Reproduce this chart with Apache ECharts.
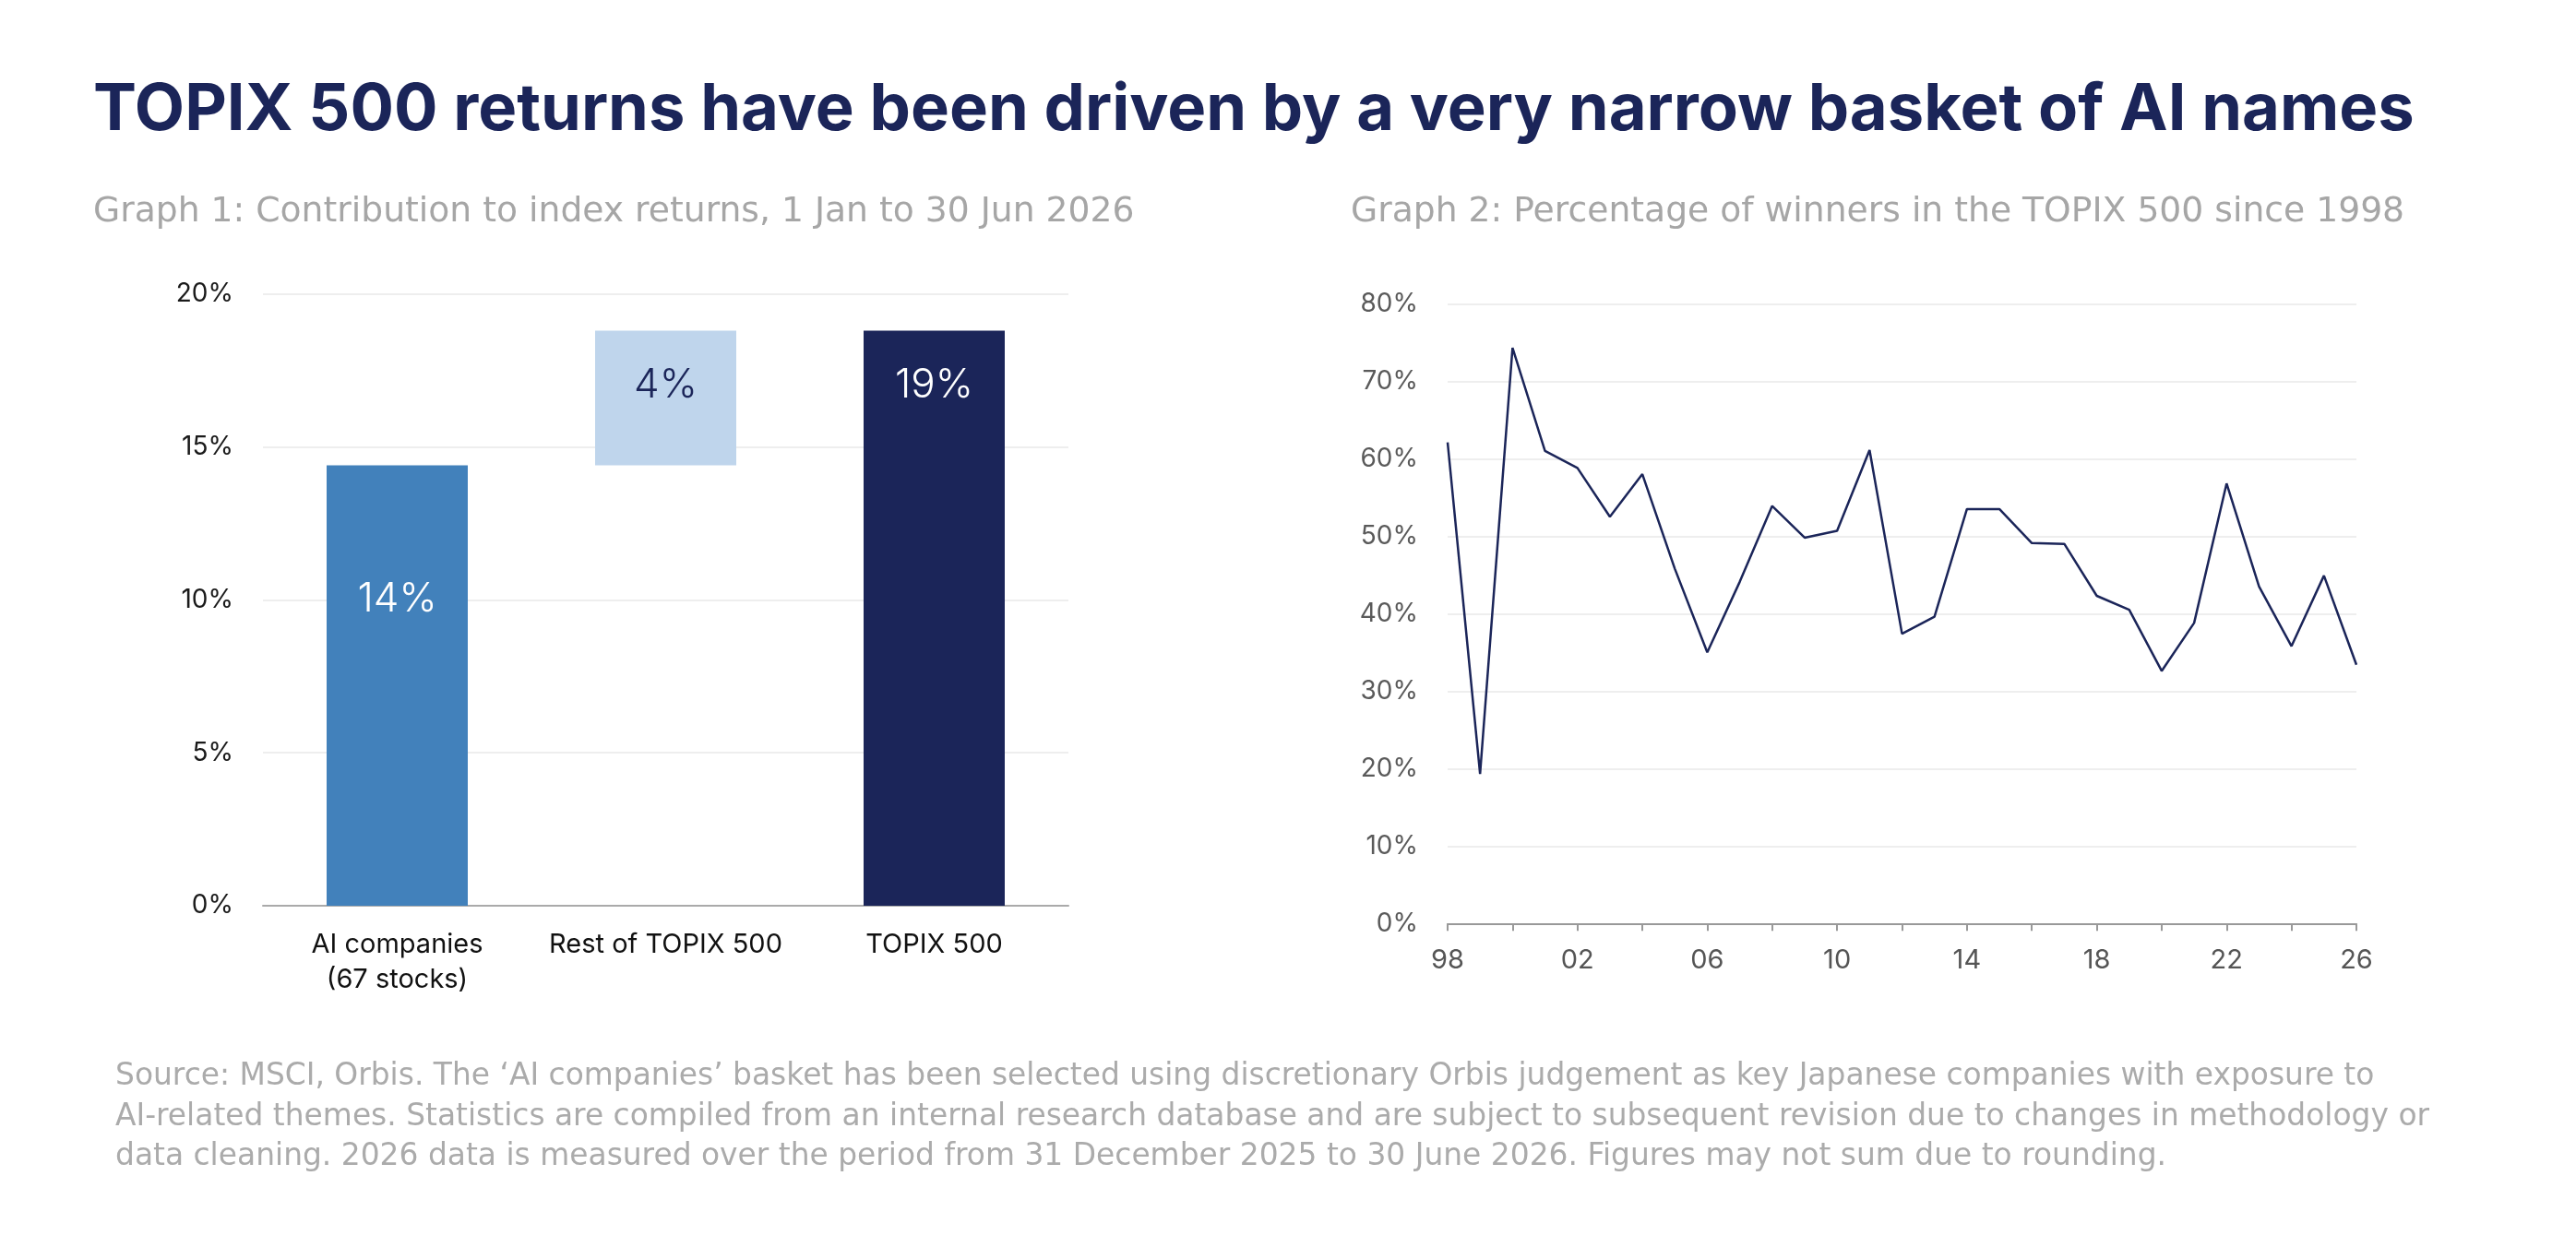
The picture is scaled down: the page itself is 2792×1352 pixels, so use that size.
<!DOCTYPE html>
<html>
<head>
<meta charset="utf-8">
<script src="https://cdn.jsdelivr.net/npm/echarts@6/dist/echarts.min.js"></script>
<style>
html,body{margin:0;padding:0;background:#fff;}
#main{width:2792px;height:1352px;}
</style>
</head>
<body>
<div id="main"></div>
<script>
// graph 1: contribution to index returns
let barCats = ['AI companies\n(67 stocks)', 'Rest of TOPIX 500', 'TOPIX 500'];
let barVals = [14.4, 4.4, 18.8];
let barTags = ['14%', '4%', '19%'];

// graph 2: percentage of winners
let years = ['1998','1999','2000','2001','2002','2003','2004','2005','2006','2007','2008','2009','2010','2011','2012','2013','2014','2015','2016','2017','2018','2019','2020','2021','2022','2023','2024','2025','2026'];
let winners = [62.1, 19.3, 74.3, 61.0, 58.8, 52.5, 58.0, 45.8, 35.0, 44.1, 53.9, 49.8, 50.7, 61.1, 37.4, 39.6, 53.5, 53.5, 49.1, 49.0, 42.3, 40.5, 32.6, 38.8, 56.8, 43.5, 35.8, 44.9, 33.4];

let navy = '#1b2559';
let font = 'Inter';
let wide = 'DejaVu Sans';
let note = [
  'Source: MSCI, Orbis. The \u2018AI companies\u2019 basket has been selected using discretionary Orbis judgement as key Japanese companies with exposure to',
  'AI-related themes. Statistics are compiled from an internal research database and are subject to subsequent revision due to changes in methodology or',
  'data cleaning. 2026 data is measured over the period from 31 December 2025 to 30 June 2026. Figures may not sum due to rounding.'
];

// floating base for the waterfall: rest sits on top of AI companies
let base = [0, barVals[0], 0];
let barColors = ['#4281bb', '#bfd5ec', navy];
let tagColors = ['#fff', navy, '#fff'];
let tagDist = [123, 37, 37];

let chart = echarts.init(document.getElementById('main'));
chart.setOption({
  backgroundColor: '#fff',
  textStyle: {fontFamily: font},
  animation: false,
  graphic: [
    {type:'text', left:101, top:84, style:{text:'TOPIX 500 returns have been driven by a very narrow basket of AI names', fill:navy, font:'700 70.5px ' + font}},
    {type:'text', left:101, top:211, style:{text:'Graph 1: Contribution to index returns, 1 Jan to 30 Jun 2026', fill:'#a6a6a6', font:'37.7px "' + wide + '"'}},
    {type:'text', left:1464, top:211, style:{text:'Graph 2: Percentage of winners in the TOPIX 500 since 1998', fill:'#a6a6a6', font:'37.7px "' + wide + '"'}},
    {type:'text', left:125, top:1146, style:{text:note.join('\n'), fill:'#ababab', font:'32.9px "' + wide + '"', lineHeight:43.5}}
  ],
  grid: [
    {left:285, right:1634, top:318.7, bottom:370},
    {left:1569, right:238, top:329.3, bottom:350.7}
  ],
  xAxis: [
    {type:'category', gridIndex:0, data:barCats,
     axisLine:{lineStyle:{color:'#aaaaaa', width:2}}, axisTick:{show:false},
     axisLabel:{interval:0, color:'#111', fontSize:29, margin:23, lineHeight:38, fontFamily:font}},
    {type:'category', gridIndex:1, data:years, boundaryGap:false,
     axisLine:{lineStyle:{color:'#999999', width:2}},
     axisTick:{interval:1, length:8, lineStyle:{color:'#999999', width:2}},
     axisLabel:{interval:3, color:'#555', fontSize:29, margin:25, fontFamily:font, formatter:v => v.slice(2)}}
  ],
  yAxis: [
    {type:'value', gridIndex:0, min:0, max:20, interval:5,
     axisLine:{show:false}, axisTick:{show:false},
     splitLine:{lineStyle:{color:'#e8e8e8', width:1.5}},
     axisLabel:{color:'#1a1a1a', fontSize:28, margin:32, fontFamily:font, formatter:'{value}%'}},
    {type:'value', gridIndex:1, min:0, max:80, interval:10,
     axisLine:{show:false}, axisTick:{show:false},
     splitLine:{lineStyle:{color:'#e8e8e8', width:1.5}},
     axisLabel:{color:'#5a5a5a', fontSize:28, margin:32, fontFamily:font, formatter:'{value}%'}}
  ],
  series: [
    {type:'bar', xAxisIndex:0, yAxisIndex:0, stack:'w', barWidth:153, silent:true,
     itemStyle:{color:'transparent'}, data:base},
    {type:'bar', xAxisIndex:0, yAxisIndex:0, stack:'w', barWidth:153,
     data:barVals.map((v, i) => ({
       value:v,
       itemStyle:{color:barColors[i]},
       label:{show:true, position:'insideTop', distance:tagDist[i], formatter:barTags[i],
              color:tagColors[i], fontSize:44, fontFamily:font, fontWeight:300}
     }))},
    {type:'line', xAxisIndex:1, yAxisIndex:1, data:winners, showSymbol:false,
     lineStyle:{color:navy, width:2.5}}
  ]
});
</script>
</body>
</html>
